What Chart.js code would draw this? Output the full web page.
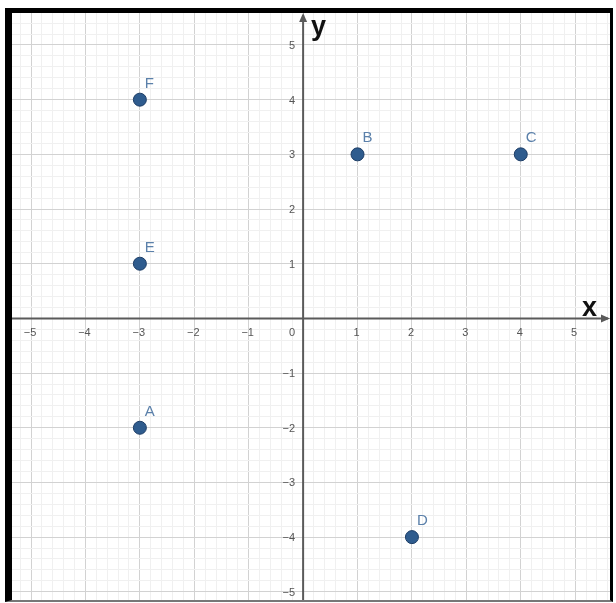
<!DOCTYPE html>
<html>
<head>
<meta charset="utf-8">
<script src="https://cdn.jsdelivr.net/npm/chart.js@4.4.0/dist/chart.umd.min.js"></script>
<style>
  html, body { margin: 0; padding: 0; background: #fff; }
  #frame {
    position: absolute; left: 5px; top: 8px;
    width: 598px; height: 587px;
    border-left: 7px solid #000; border-top: 5px solid #000;
    border-right: 3px solid #000; border-bottom: 2px solid #777;
  }
  #wrap { position: relative; width: 598px; height: 587px; }
</style>
</head>
<body>
<div id="frame"><div id="wrap"><canvas id="c"></canvas></div></div>
<script>
// Data
const pointNames = ['A', 'B', 'C', 'D', 'E', 'F'];
const xValues = [-3, 1, 4, 2, -3, -3];
const yValues = [-2, 3, 3, -4, 1, 4];
const xTickLabels = [-5, -4, -3, -2, -1, 0, 1, 2, 3, 4, 5];
const yTickLabels = [-5, -4, -3, -2, -1, 1, 2, 3, 4, 5];

const points = xValues.map((x, i) => ({ x: x, y: yValues[i], name: pointNames[i] }));

function minorTicks(scale) {
  const t = [];
  for (let k = Math.ceil(scale.min * 5); k <= Math.floor(scale.max * 5); k++) t.push({ value: k / 5 });
  scale.ticks = t;
}
function gridColor(ctx) {
  const v = ctx.tick ? ctx.tick.value : 0;
  return Math.abs(v - Math.round(v)) < 1e-6 ? '#d2d2d2' : '#f0f0f0';
}
const fmt = v => (v < 0 ? '\u2212' + Math.abs(v) : String(v));

const axesPlugin = {
  id: 'axesPlugin',
  beforeDatasetsDraw(chart) {
    const { ctx, chartArea: a, scales: { x, y } } = chart;
    const x0 = x.getPixelForValue(0), y0 = y.getPixelForValue(0);
    ctx.save();
    ctx.strokeStyle = '#5a5a5a'; ctx.fillStyle = '#5a5a5a'; ctx.lineWidth = 2;
    ctx.beginPath(); ctx.moveTo(a.left, y0); ctx.lineTo(a.right - 2, y0); ctx.stroke();
    ctx.beginPath(); ctx.moveTo(x0, a.bottom); ctx.lineTo(x0, a.top + 2); ctx.stroke();
    // arrows
    ctx.beginPath(); ctx.moveTo(a.right, y0); ctx.lineTo(a.right - 9, y0 - 4); ctx.lineTo(a.right - 9, y0 + 4); ctx.closePath(); ctx.fill();
    ctx.beginPath(); ctx.moveTo(x0, a.top); ctx.lineTo(x0 - 4, a.top + 9); ctx.lineTo(x0 + 4, a.top + 9); ctx.closePath(); ctx.fill();
    // tick labels
    ctx.fillStyle = '#555';
    ctx.font = '11px "Liberation Sans", Arial, sans-serif';
    ctx.textAlign = 'center'; ctx.textBaseline = 'top';
    xTickLabels.forEach(v => {
      const px = x.getPixelForValue(v);
      if (v === 0) { ctx.textAlign = 'right'; ctx.fillText('0', x0 - 8, y0 + 9); ctx.textAlign = 'center'; }
      else ctx.fillText(fmt(v), px - 1, y0 + 9);
    });
    ctx.textAlign = 'right'; ctx.textBaseline = 'middle';
    yTickLabels.forEach(v => {
      ctx.fillText(fmt(v), x0 - 8, y.getPixelForValue(v) + 1);
    });
    // axis names
    ctx.fillStyle = '#111';
    ctx.font = 'bold 27px "Liberation Sans", Arial, sans-serif';
    ctx.textAlign = 'left'; ctx.textBaseline = 'alphabetic';
    ctx.fillText('x', a.right - 28, y0 - 2);
    ctx.fillText('y', x0 + 8, a.top + 22);
    ctx.restore();
  },
  afterDatasetsDraw(chart) {
    const { ctx, scales: { x, y } } = chart;
    ctx.save();
    ctx.fillStyle = '#5b80aa';
    ctx.font = '15px "Liberation Sans", Arial, sans-serif';
    ctx.textAlign = 'left'; ctx.textBaseline = 'alphabetic';
    points.forEach(p => {
      ctx.fillText(p.name, x.getPixelForValue(p.x) + 5, y.getPixelForValue(p.y) - 12);
    });
    ctx.restore();
  }
};

new Chart(document.getElementById('c'), {
  type: 'scatter',
  data: {
    datasets: [{
      data: points,
      backgroundColor: '#2f5c8e',
      borderColor: '#1d3d66',
      borderWidth: 1,
      pointRadius: 6.5,
      pointHoverRadius: 6.5
    }]
  },
  options: {
    responsive: true,
    maintainAspectRatio: false,
    animation: false,
    layout: { padding: 0, autoPadding: false },
    plugins: { legend: { display: false }, tooltip: { enabled: false } },
    scales: {
      x: {
        type: 'linear', min: -5.35, max: 5.64,
        afterBuildTicks: minorTicks,
        ticks: { display: false },
        border: { display: false },
        grid: { color: gridColor, drawTicks: false, lineWidth: 1 }
      },
      y: {
        type: 'linear', min: -5.15, max: 5.585,
        afterBuildTicks: minorTicks,
        ticks: { display: false },
        border: { display: false },
        grid: { color: gridColor, drawTicks: false, lineWidth: 1 }
      }
    }
  },
  plugins: [axesPlugin]
});
</script>
</body>
</html>
